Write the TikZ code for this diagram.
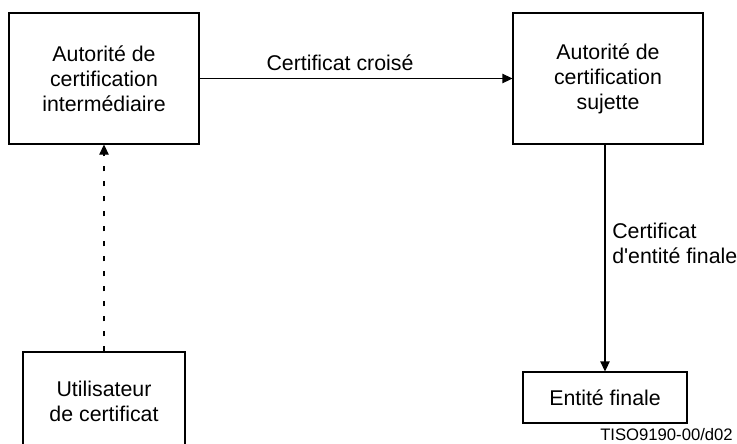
\documentclass[tikz,border=0pt]{standalone}
\usepackage{fontspec}
\setmainfont{Liberation Sans}
\usepackage{tikz}
\usetikzlibrary{arrows.meta,positioning}

\begin{document}
\begin{tikzpicture}[
    x=0.75pt, y=-0.75pt,
    font=\fontsize{16}{18.75}\selectfont,
    authority/.style={
        draw,
        align=center,
        minimum width=142.5pt,
        minimum height=98.25pt,
        line width=0.8pt
    },
    entity/.style={
        draw,
        align=center,
        line width=0.8pt
    },
    label/.style={
        align=left,
        inner sep=0pt
    },
    arrow/.style={-{Triangle[length=7.5pt,width=7pt]}, line width=0.8pt}
]
\useasboundingbox (0,0) rectangle (737,443);

\node[authority] (inter) at (104,78.5) {Autorité de\\certification\\intermédiaire};
\node[authority] (sujette) at (608,78.5) {Autorité de\\certification\\sujette};
\node[entity, minimum width=121.5pt, minimum height=73.5pt] (user) at (104,401) {Utilisateur\\de certificat};
\node[entity, minimum width=123pt, minimum height=38.25pt] (finale) at (605,397.5) {Entité finale};

\node[label] (croise) at (340,63) {Certificat croisé};
\node[label, anchor=west] (eecert) at (612,243) {Certificat\\d\textquotesingle entité finale};
\node[label, anchor=east, font=\fontsize{12.5}{15}\selectfont] (ref) at (733,435) {TISO9190-00/d02};

\draw[arrow] (inter) -- (sujette);
\draw[arrow] (finale.north |- sujette.south) -- (finale.north);
\draw[arrow, dash pattern=on 3.75pt off 7.5pt] (user) -- (inter);
\end{tikzpicture}
\end{document}
